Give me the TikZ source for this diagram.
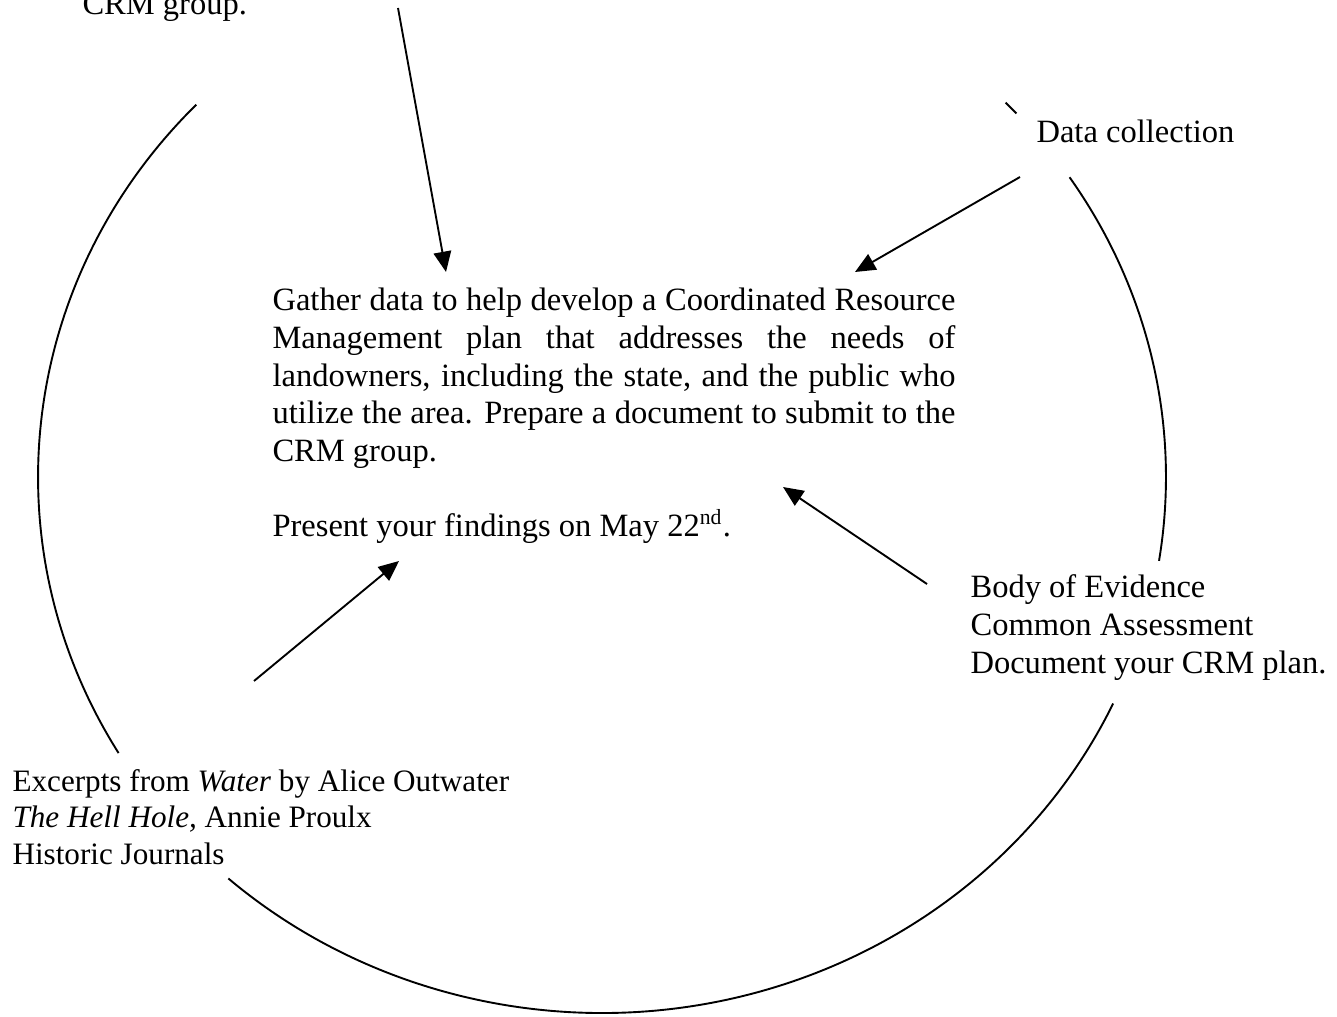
\documentclass[tikz,border=0pt]{standalone}
\usepackage{fontspec}
\setmainfont{Liberation Serif}
\usetikzlibrary{arrows.meta}

\begin{document}
\begin{tikzpicture}[x=0.369pt,y=-0.369pt,
    txt/.style={anchor=base west,inner sep=0pt,align=left,
      font=\fontsize{12}{13.84}\selectfont},
    arr/.style={line width=0.7pt,-{Triangle[length=7.5pt,width=6.5pt]}},
    ring/.style={line width=0.7pt}]
    \useasboundingbox (0,0) rectangle (1337,1017);
    % Circle
    \coordinate (c) at (602,477);
    \foreach \a/\b in {136/211,228.5/335,-9/34,42.7/44.3}
      \draw[ring] ([shift={(\a:208.1pt and 197.8pt)}]c)
        arc[start angle=\a,end angle=\b,x radius=208.1pt,y radius=197.8pt];
    % Texts (multi-line nodes sit on their last line)
    \node[txt] (crm) at (82,15) {CRM group.};
    \node[txt,text width=252pt,align=justify] (task) at (272,311)
      {\sloppy Gather data to help develop a Coordinated Resource\linebreak
       Management plan that addresses the needs of\linebreak
       landowners, including the state, and the public who\linebreak
       utilize the area. Prepare a document to submit to the\linebreak
       CRM group.\par\vspace{13.84pt}
       Present your findings on May 22\textsuperscript{nd}.};
    \node[txt] (data) at (1036,143) {Data collection};
    \node[txt] (body) at (970,673)
      {Body of Evidence\\Common Assessment\\Document your CRM plan.};
    \node[txt,font=\fontsize{11.5}{13.3}\selectfont] (read) at (12,864)
      {Excerpts from \textit{Water} by Alice Outwater\\
       \textit{The Hell Hole,} Annie Proulx\\Historic Journals};
    % Arrows
    \coordinate (crmfoot) at (398,8);
    \coordinate (tasktop) at (446,272);
    \coordinate (datafoot) at (1020,177);
    \coordinate (taskne) at (855,272);
    \coordinate (readtop) at (254,681);
    \coordinate (tasksw) at (399,561);
    \coordinate (bodytop) at (927,584);
    \coordinate (taskse) at (783,487);
    \draw[arr] (crmfoot) -- (tasktop);
    \draw[arr] (datafoot) -- (taskne);
    \draw[arr] (readtop) -- (tasksw);
    \draw[arr] (bodytop) -- (taskse);
\end{tikzpicture}
\end{document}
